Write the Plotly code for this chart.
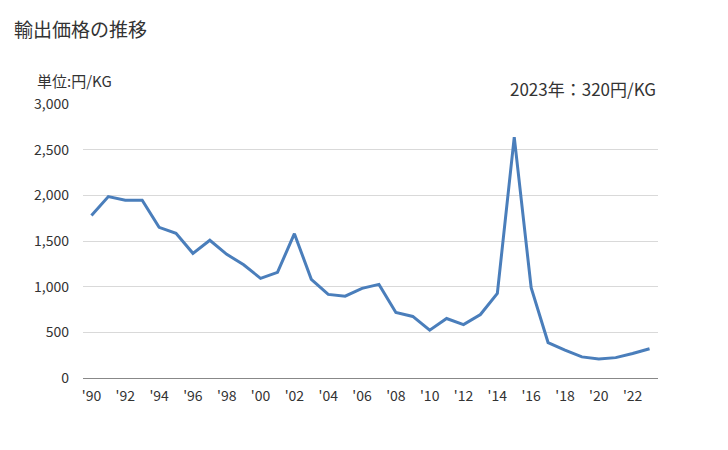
import plotly.graph_objects as go

years = list(range(1990, 2024))
values = [1778, 1986, 1947, 1947, 1650, 1584, 1365, 1508, 1354, 1240,
          1091, 1157, 1580, 1080, 915, 896, 981, 1025, 718, 674,
          523, 651, 585, 695, 926, 2638, 988, 388, 304, 231,
          209, 223, 268, 320]
tick_years = list(range(1990, 2024, 2))
tick_labels = ["'" + str(y)[2:] for y in tick_years]
y_ticks = [0, 500, 1000, 1500, 2000, 2500, 3000]
y_labels = ["0", "500", "1,000", "1,500", "2,000", "2,500", "3,000"]

font_family = "Noto Sans CJK JP, Noto Sans, sans-serif"

fig = go.Figure()
fig.add_trace(go.Scatter(
    x=years, y=values, mode="lines",
    line=dict(color="#4a7ebb", width=3),
    hoverinfo="x+y", showlegend=False,
))

fig.update_layout(
    width=728, height=450,
    margin=dict(l=83, r=70, t=104, b=72),
    paper_bgcolor="white", plot_bgcolor="white",
    font=dict(family=font_family, color="#333333", size=14),
    xaxis=dict(
        range=[1989.5, 2023.5],
        tickvals=tick_years, ticktext=tick_labels,
        showgrid=False, zeroline=False, showline=False,
        ticks="", ticklabelstandoff=8,
        tickfont=dict(size=14, color="#333333"),
    ),
    yaxis=dict(
        range=[0, 3000],
        tickvals=y_ticks, ticktext=y_labels,
        showgrid=True, gridcolor="#d9d9d9", gridwidth=1,
        zeroline=True, zerolinecolor="#888888", zerolinewidth=1,
        showline=False, ticks="", ticklabelstandoff=13,
        tickfont=dict(size=14, color="#333333"),
    ),
    annotations=[
        dict(text="輸出価格の推移", xref="paper", yref="paper",
             x=(12 - 83) / 575, y=1 + (104 - 28) / 274, xanchor="left", yanchor="middle",
             showarrow=False, font=dict(size=19, color="#333333")),
        dict(text="単位:円/KG", xref="paper", yref="paper",
             x=(35 - 83) / 575, y=1 + (104 - 80) / 274, xanchor="left", yanchor="middle",
             showarrow=False, font=dict(size=15, color="#333333")),
        dict(text="2023年：320円/KG", xref="paper", yref="paper",
             x=1.0, y=1 + (104 - 88) / 274, xanchor="right", yanchor="middle",
             showarrow=False, font=dict(size=17, color="#333333")),
    ],
)

fig.write_html("out.html")
